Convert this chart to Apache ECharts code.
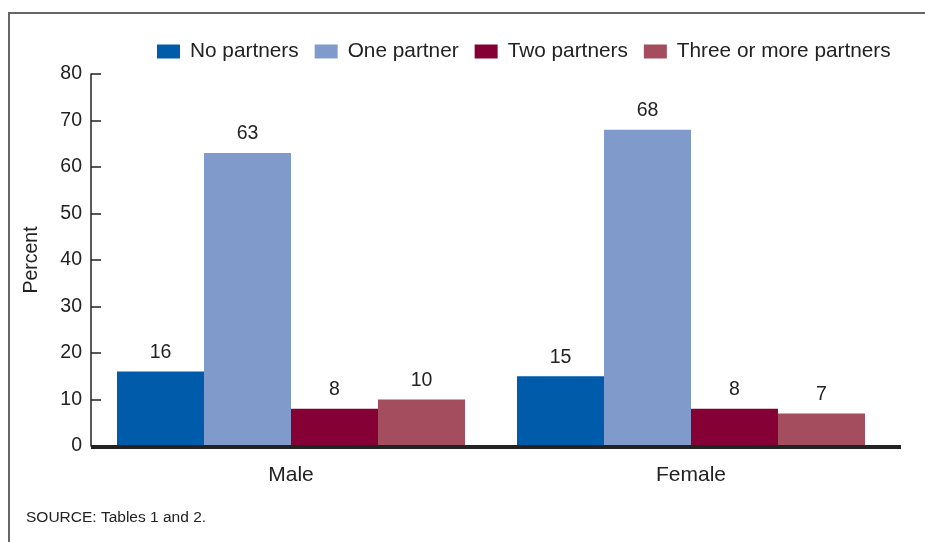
<!DOCTYPE html>
<html>
<head>
<meta charset="utf-8">
<script src="https://cdn.jsdelivr.net/npm/echarts@6/dist/echarts.min.js"></script>
<style>
html,body{margin:0;padding:0;background:#fff;}
#chart{width:925px;height:542px;}
</style>
</head>
<body>
<div id="chart"></div>
<script>
var categories = ['Male', 'Female'];
var seriesNames = ['No partners', 'One partner', 'Two partners', 'Three or more partners'];
var noPartners = [16, 15];
var onePartner = [63, 68];
var twoPartners = [8, 8];
var threePlus = [10, 7];
var colors = ['#005baa', '#7f9acb', '#850035', '#a44d5f'];
var yTicks = [0, 10, 20, 30, 40, 50, 60, 70, 80];

var values = [noPartners, onePartner, twoPartners, threePlus];
var FONT = '"Liberation Sans", Arial, Helvetica, sans-serif';
var chart = echarts.init(document.getElementById('chart'), null, {renderer: 'canvas'});

var series = seriesNames.map(function (name, i) {
  return {
    name: name,
    type: 'bar',
    data: values[i],
    barGap: '0%',
    barCategoryGap: '13%',
    itemStyle: {color: colors[i]},
    label: {
      show: true,
      position: 'top',
      distance: 9,
      color: '#222',
      fontSize: 19.5,
      fontFamily: FONT
    }
  };
});

chart.setOption({
  animation: false,
  textStyle: {fontFamily: FONT},
  legend: {
    data: seriesNames,
    left: 152,
    top: 36,
    itemWidth: 23,
    itemHeight: 14,
    itemGap: 16,
    icon: 'rect',
    textStyle: {fontSize: 20.8, color: '#222', fontFamily: FONT, padding: [0, 0, 0, 5]}
  },
  grid: {left: 91, right: 34, top: 74, bottom: 96, containLabel: false},
  xAxis: {
    type: 'category',
    data: categories,
    axisLine: {show: false},
    axisTick: {show: false},
    axisLabel: {fontSize: 21, color: '#222', margin: 19, fontFamily: FONT}
  },
  yAxis: {
    type: 'value',
    min: yTicks[0],
    max: yTicks[yTicks.length - 1],
    interval: 10,
    name: 'Percent',
    nameLocation: 'middle',
    nameGap: 49,
    nameTextStyle: {fontSize: 19.5, color: '#222', fontFamily: FONT},
    axisLine: {show: true, lineStyle: {color: '#222', width: 1.5}},
    axisTick: {show: true, inside: true, length: 10, lineStyle: {color: '#222', width: 1.5}},
    axisLabel: {fontSize: 19.5, color: '#222', margin: 9, fontFamily: FONT, padding: [5, 0, 0, 0]},
    splitLine: {show: false}
  },
  series: series,
  graphic: [
    {
      type: 'rect',
      shape: {x: 9, y: 13, width: 1000, height: 700},
      style: {fill: 'none', stroke: '#666', lineWidth: 2},
      silent: true
    },
    {
      type: 'line',
      shape: {x1: 91, y1: 447, x2: 901, y2: 447},
      style: {stroke: '#222', lineWidth: 4},
      z: 100
    },
    {
      type: 'text',
      left: 26, top: 510,
      style: {text: 'SOURCE: Tables 1 and 2.', font: '15.5px ' + FONT, fill: '#222'}
    }
  ]
});
</script>
</body>
</html>
